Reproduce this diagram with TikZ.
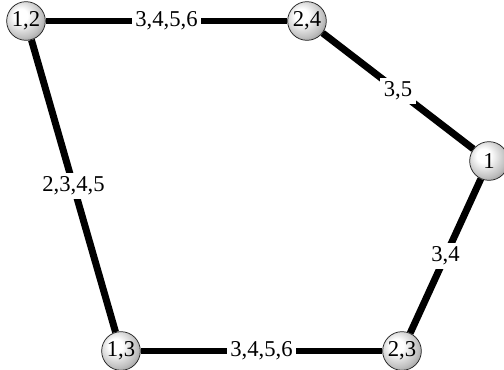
\documentclass[tikz,border=0pt]{standalone}
\usepackage{fontspec}
\setmainfont{Liberation Serif}
\usetikzlibrary{shadings}

\pgfdeclareradialshading{vtxball}{\pgfpoint{-8bp}{8bp}}{%
  color(0bp)=(white); color(9bp)=(white); color(26bp)=(gray!50);
  color(38bp)=(gray); color(52bp)=(gray!40!black); color(70bp)=(gray!40!black)}

\begin{document}
\begin{tikzpicture}[
  x=0.53pt,y=-0.53pt,
  font=\fontsize{12}{14}\selectfont,
  vtx/.style={circle,shading=vtxball,draw=gray!30!black,line width=0.4pt,text=black,
    minimum size=20.5pt,inner sep=0pt},
  edg/.style={line width=3.7pt},
  lbl/.style={fill=white,inner sep=2pt}
]
  \useasboundingbox (0,0) rectangle (504,369);

  \node[vtx] (v12) at (26,21) {1,2};
  \node[vtx] (v24) at (307,21) {2,4};
  \node[vtx] (v1)  at (489,161) {1};
  \node[vtx] (v23) at (402,351) {2,3};
  \node[vtx] (v13) at (121,351) {1,3};

  \draw[edg] (v12) -- node[lbl] {3,4,5,6} (v24);
  \draw[edg] (v24) -- node[lbl] {3,5} (v1);
  \draw[edg] (v12) -- node[lbl] {2,3,4,5} (v13);
  \draw[edg] (v1) -- node[lbl] {3,4} (v23);
  \draw[edg] (v13) -- node[lbl] {3,4,5,6} (v23);
\end{tikzpicture}
\end{document}
